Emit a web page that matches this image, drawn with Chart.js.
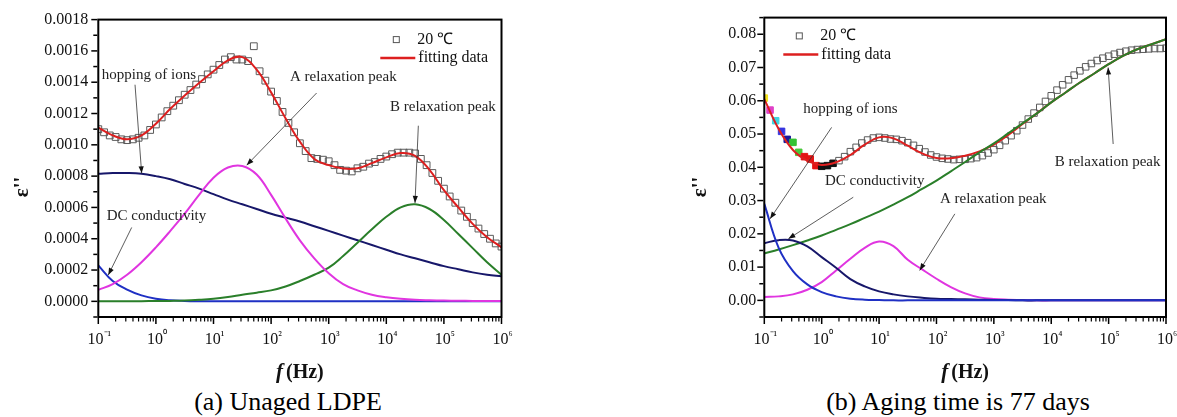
<!DOCTYPE html>
<html lang="en">
<head>
<meta charset="UTF-8">
<title>Dielectric loss spectra</title>
<script src="https://cdn.jsdelivr.net/npm/chart.js"></script>
<style>
  body { margin: 0; width: 1177px; height: 417px; background: #fff; overflow: hidden; position: relative; font-family: "Liberation Serif", "Times New Roman", serif; }
  .wrap { position: absolute; top: 0; height: 385px; }
  .caption { position: absolute; top: 388px; width: 420px; text-align: center; font-size: 26px; line-height: 28px; color: #000; }
</style>
</head>
<body>
<div class="wrap" style="left:0;width:588px"><canvas id="chartA"></canvas></div>
<div class="wrap" style="left:588px;width:589px"><canvas id="chartB"></canvas></div>
<div class="caption" style="left:78px">(a) Unaged LDPE</div>
<div class="caption" style="left:748px">(b) Aging time is 77 days</div>

<script>
// measured frequencies (10 per decade) and fit frequencies (4 per decade), Hz
const freqMeas = [0.1,0.126,0.158,0.2,0.251,0.316,0.398,0.501,0.631,0.794,
  1,1.26,1.58,2,2.51,3.16,3.98,5.01,6.31,7.94,
  10,12.6,15.8,20,25.1,31.6,39.8,50.1,63.1,79.4,
  100,126,158,200,251,316,398,501,631,794,
  1e3,1260,1580,2000,2510,3160,3980,5010,6310,7940,
  1e4,12600,15800,20000,25100,31600,39800,50100,63100,79400,
  1e5,126000,158000,200000,251000,316000,398000,501000,631000,794000,
  1e6];
const freqFit = [0.1,0.178,0.316,0.562,1,1.78,3.16,5.62,10,17.8,31.6,56.2,100,178,316,562,
  1e3,1780,3160,5620,1e4,17800,31600,56200,1e5,178000,316000,562000,1e6];

// (a) Unaged LDPE
const aMeasured = [0.00110,0.00108,0.00106,0.00105,0.001035,0.00103,0.001035,0.001045,0.00106,0.001095,
  0.00113,0.001175,0.001215,0.00125,0.001285,0.00132,0.00135,0.001385,0.00142,0.00145,
  0.00148,0.00151,0.001545,0.00156,0.001545,0.001545,0.001535,0.00163,0.00147,0.00141,
  0.00134,0.00128,0.00121,0.00114,0.00108,0.00101,0.00096,0.000915,0.00091,0.000905,
  0.000895,0.00087,0.00084,0.000835,0.00083,0.00085,0.00086,0.00088,0.00089,0.00091,
  0.000925,0.00094,0.00095,0.00095,0.00095,0.000945,0.00091,0.00087,0.00082,0.00077,
  0.00072,0.00067,0.00063,0.00058,0.00054,0.0005,0.000465,0.00043,0.0004,0.00037,
  0.00035];
const aFit = [0.00111,0.00106,0.001035,0.00106,0.001135,0.00123,0.001315,0.001395,0.00147,0.00154,0.00156,0.00148,
  0.001335,0.00117,0.00102,0.00091,0.00087,0.000848,0.00085,0.000883,0.00092,0.000948,0.00093,0.00084,
  0.00071,0.0006,0.000495,0.00041,0.000345];
const aHopping = [0.000815,0.00082,0.00082,0.000815,0.0008,0.00078,0.00075,0.00072,0.000685,0.00065,0.00062,0.00059,
  0.00056,0.000535,0.00051,0.00048,0.00045,0.00042,0.00039,0.00036,0.00033,0.0003,0.000275,0.00025,
  0.000225,0.000205,0.000185,0.00017,0.00016];
const aDC = [0.00023,0.00013,0.000075,0.000038,0.000017,0.000007,0.000003,0.000001,0,0,0,0,
  0,0,0,0,0,0,0,0,0,0,0,0,0,0,0,0,0];
const aPeakA = [0.000073,0.00011,0.00017,0.00025,0.000345,0.00045,0.00056,0.00068,0.00079,0.000855,0.000865,0.00081,
  0.00068,0.00053,0.00039,0.000275,0.00018,0.00011,0.00007,0.000042,0.000026,0.000016,0.00001,0.000007,
  0.000005,0.000004,0.000003,0.000003,0.000002];
const aPeakB = [0,0,0.000001,0.000001,0.000002,0.000003,0.000005,0.00001,0.000017,0.000028,0.000042,0.000055,
  0.00007,0.000095,0.00013,0.00017,0.000215,0.00029,0.000375,0.00046,0.00054,0.0006,0.00062,0.00059,
  0.00052,0.00043,0.00034,0.00025,0.00017];

// (b) Aging time is 77 days
const bMeasured = [0.0608,0.0572,0.054,0.0508,0.0484,0.0475,0.0445,0.0432,0.0425,0.0405,
  0.0403,0.0405,0.0412,0.042,0.0432,0.0447,0.046,0.0473,0.0482,0.0488,
  0.049,0.0488,0.0485,0.0484,0.048,0.0474,0.0466,0.0456,0.0446,0.0437,
  0.0431,0.0427,0.0425,0.0423,0.0424,0.0424,0.0426,0.0429,0.0435,0.0443,
  0.0453,0.0466,0.048,0.0495,0.051,0.0527,0.0545,0.0563,0.058,0.0598,
  0.0615,0.0632,0.0648,0.0663,0.0677,0.069,0.0702,0.0712,0.0721,0.0728,
  0.0734,0.074,0.0745,0.0749,0.0752,0.0754,0.0755,0.0756,0.0757,0.0757,
  0.0758];
const bFit = [0.0605,0.0515,0.0452,0.042,0.0407,0.0415,0.0437,0.0468,0.049,0.0487,0.0465,0.0442,
  0.0428,0.0427,0.0435,0.0448,0.0468,0.0497,0.053,0.0562,0.0595,0.0625,0.0655,0.0682,
  0.071,0.0735,0.0755,0.077,0.0785];
const bHopping = [0.0172,0.0181,0.018,0.0162,0.013,0.0098,0.0064,0.0042,0.0027,0.0018,0.0012,0.0008,
  0.0005,0.0004,0.0003,0.0002,0.0001,0.0001,0,0,0,0,0,0,0,0,0,0,0];
const bDC = [0.029,0.0158,0.0088,0.0048,0.0025,0.0012,0.0005,0.0002,0.0001,0,0,0,
  0,0,0,0,0,0,0,0,0,0,0,0,0,0,0,0,0];
const bPeakA = [0.001,0.0012,0.0018,0.0032,0.0055,0.009,0.0125,0.0158,0.0177,0.0163,0.0122,0.0093,
  0.0065,0.004,0.0021,0.0009,0.0004,0.0002,0.0001,0,0,0,0,0,0,0,0,0,0];
const bPeakB = [0.0141,0.0153,0.0166,0.018,0.0195,0.0212,0.0229,0.0248,0.0267,0.0288,0.031,0.0335,
  0.036,0.0388,0.0416,0.0445,0.0472,0.0502,0.0532,0.0562,0.0595,0.0625,0.0655,0.0682,
  0.071,0.0735,0.0755,0.077,0.0785];

// tick labels
const xTickExp = ['-1','0','1','2','3','4','5','6'];
const yTicksA = ['0.0000','0.0002','0.0004','0.0006','0.0008','0.0010','0.0012','0.0014','0.0016','0.0018'];
const yTicksB = ['0.00','0.01','0.02','0.03','0.04','0.05','0.06','0.07','0.08'];

// the first few low-frequency points of (b) are filled in colour
const bFill = ['#f2e21a','#e040c8','#3fd6e0','#3535e0','#1c1c9a','#34c234','#49c83a','#e31414','#e31414','#e31414','#111','#111','#111'];

const SERIF = '"Liberation Serif", "Times New Roman", serif';
const SUP = {'-':'⁻','0':'⁰','1':'¹','2':'²','3':'³','4':'⁴','5':'⁵','6':'⁶'};

function pts(xs, ys) { return xs.map((f, i) => ({x: f, y: ys[i]})); }

function arrow(ctx, x1, y1, x2, y2) {
  ctx.strokeStyle = '#333';
  ctx.lineWidth = 0.8;
  ctx.beginPath(); ctx.moveTo(x1, y1); ctx.lineTo(x2, y2); ctx.stroke();
  const a = Math.atan2(y2 - y1, x2 - x1);
  ctx.fillStyle = '#111';
  ctx.beginPath();
  ctx.moveTo(x2, y2);
  ctx.lineTo(x2 - 7 * Math.cos(a) + 2.6 * Math.sin(a), y2 - 7 * Math.sin(a) - 2.6 * Math.cos(a));
  ctx.lineTo(x2 - 7 * Math.cos(a) - 2.6 * Math.sin(a), y2 - 7 * Math.sin(a) + 2.6 * Math.cos(a));
  ctx.closePath(); ctx.fill();
}

// notes, legend, frame, ticks, 10^n labels and axis titles
const decor = {
  id: 'decor',
  afterDatasetsDraw(chart, args, o) {
    const ctx = chart.ctx, ca = chart.chartArea, x = chart.scales.x, y = chart.scales.y;
    ctx.save();
    o.notes.forEach(n => {
      ctx.font = '15px ' + SERIF;
      ctx.fillStyle = '#222';
      ctx.textAlign = 'left';
      ctx.textBaseline = 'middle';
      ctx.fillText(n.text, x.getPixelForValue(n.tx), y.getPixelForValue(n.ty));
      arrow(ctx, x.getPixelForValue(n.ax), y.getPixelForValue(n.ay), x.getPixelForValue(n.bx), y.getPixelForValue(n.by));
    });
    // legend
    const lx = ca.left + o.legend.x, ly = ca.top + o.legend.y;
    ctx.strokeStyle = '#555'; ctx.lineWidth = 1;
    ctx.strokeRect(lx + 13, ly - 3, 6, 6);
    ctx.strokeStyle = '#dd1f1f'; ctx.lineWidth = 2.5;
    ctx.beginPath(); ctx.moveTo(lx, ly + 18.5); ctx.lineTo(lx + 35, ly + 18.5); ctx.stroke();
    ctx.font = '16px ' + SERIF; ctx.fillStyle = '#111';
    ctx.textAlign = 'left'; ctx.textBaseline = 'middle';
    ctx.fillText('20 ℃', lx + 37, ly);
    ctx.fillText('fitting data', lx + 38, ly + 18.5);
    ctx.restore();
  },
  afterDraw(chart, args, o) {
    const ctx = chart.ctx, ca = chart.chartArea, x = chart.scales.x, y = chart.scales.y;
    ctx.save();
    // frame
    ctx.strokeStyle = '#000';
    ctx.lineWidth = 2;
    ctx.strokeRect(ca.left, ca.top, ca.right - ca.left, ca.bottom - ca.top);
    // outward ticks
    ctx.fillStyle = '#000';
    y.ticks.forEach(t => {
      const py = y.getPixelForValue(t.value);
      const len = t.label ? 6 : 4;
      ctx.fillRect(ca.left - 1 - len, py - 0.75, len, 1.5);
    });
    xTickExp.forEach(e => {
      const d = Number(e);
      ctx.fillRect(x.getPixelForValue(Math.pow(10, d)) - 0.75, ca.bottom + 1, 1.5, 6);
      if (d < 6) {
        for (let m = 2; m <= 9; m++) ctx.fillRect(x.getPixelForValue(m * Math.pow(10, d)) - 0.6, ca.bottom + 1, 1.2, 3.5);
      }
    });
    // x tick labels 10^n
    ctx.fillStyle = '#111';
    ctx.textAlign = 'left';
    ctx.textBaseline = 'alphabetic';
    xTickExp.forEach(e => {
      const px = x.getPixelForValue(Math.pow(10, Number(e)));
      const sup = e.split('').map(c => SUP[c]).join('');
      ctx.font = '16px ' + SERIF;
      const w1 = ctx.measureText('10').width;
      ctx.font = '12px ' + SERIF;
      const w2 = ctx.measureText(sup).width;
      const x0 = px - (w1 + w2) / 2 + 1;
      ctx.font = '16px ' + SERIF;
      ctx.fillText('10', x0, ca.bottom + 27);
      ctx.font = '12px ' + SERIF;
      ctx.fillText(sup, x0 + w1, ca.bottom + 22);
    });
    // x title
    ctx.textBaseline = 'middle';
    const cx = (ca.left + ca.right) / 2;
    ctx.font = 'italic bold 21px ' + SERIF;
    const wf = ctx.measureText('f').width;
    ctx.font = 'bold 20px ' + SERIF;
    const wh = ctx.measureText('(Hz)').width;
    const sx = cx - (wf + 3 + wh) / 2;
    ctx.font = 'italic bold 21px ' + SERIF;
    ctx.fillText('f', sx, 373);
    ctx.font = 'bold 20px ' + SERIF;
    ctx.fillText('(Hz)', sx + wf + 3, 373);
    // y title
    ctx.translate(ca.left - o.yTitleOff, 187);
    ctx.rotate(-Math.PI / 2);
    ctx.textAlign = 'center';
    ctx.font = 'bold 21px ' + SERIF;
    ctx.fillText("ε''", 0, 0);
    ctx.restore();
  }
};

function lineSet(label, xs, ys, color, order) {
  return {label, data: pts(xs, ys), borderColor: color, borderWidth: 2, pointRadius: 0,
    tension: 0.4, fill: false, order};
}

function makeChart(id, cfg) {
  const labelFor = v => {
    const hit = cfg.yTicks.find(s => Math.abs(parseFloat(s) - v) < cfg.step / 10);
    return hit === undefined ? '' : hit;
  };
  return new Chart(document.getElementById(id), {
    type: 'line',
    data: {datasets: cfg.datasets},
    options: {
      responsive: true,
      maintainAspectRatio: false,
      animation: false,
      layout: {padding: cfg.padding},
      plugins: {legend: {display: false}, tooltip: {enabled: false}, decor: cfg.decor},
      scales: {
        x: {
          type: 'logarithmic', min: 0.1, max: 1e6,
          grid: {display: false, drawTicks: false}, border: {display: false},
          ticks: {display: false},
          afterFit: s => { s.height = 0; }
        },
        y: {
          min: cfg.yMin, max: cfg.yMax,
          grid: {display: false, drawTicks: false, tickLength: 0}, border: {display: false},
          ticks: {stepSize: cfg.step, autoSkip: false, padding: cfg.tickPad, color: '#111',
            font: {family: SERIF, size: 16}, callback: v => labelFor(v)},
          afterFit: s => { s.width = cfg.yWidth; }
        }
      }
    },
    plugins: [decor]
  });
}

makeChart('chartA', {
  yMin: -0.0001, yMax: 0.0018, step: 0.0001, yTicks: yTicksA, tickPad: 10, yWidth: 98.3,
  padding: {left: 0, right: 86.5, top: 16.7, bottom: 68},
  datasets: [
    {label: '20 ℃', data: pts(freqMeas, aMeasured), showLine: false, pointStyle: 'rect', pointRadius: 4.8,
      pointBorderWidth: 1, pointBorderColor: '#5a5a5a', pointBackgroundColor: 'rgba(0,0,0,0)', order: 6},
    lineSet('fitting data', freqFit, aFit, '#dd1f1f', 5),
    lineSet('hopping of ions', freqFit, aHopping, '#17176a', 4),
    lineSet('DC conductivity', freqFit, aDC, '#1f30c4', 3),
    lineSet('B relaxation peak', freqFit, aPeakB, '#2a7f2a', 2),
    lineSet('A relaxation peak', freqFit, aPeakA, '#e035e0', 1)
  ],
  decor: {
    yTitleOff: 76,
    legend: {x: 282, y: 20},
    notes: [
      {text: 'hopping of ions', tx: 0.115, ty: 0.001447, ax: 0.434, ay: 0.001384, bx: 0.566, by: 0.000818},
      {text: 'DC conductivity', tx: 0.14, ty: 0.000545, ax: 0.38, ay: 0.000472, bx: 0.149, by: 0.000168},
      {text: 'A relaxation peak', tx: 213, ty: 0.001436, ax: 617, ay: 0.001331, bx: 37.7, by: 0.00087},
      {text: 'B relaxation peak', tx: 11600, ty: 0.001241, ax: 36000, ay: 0.001122, bx: 31500, by: 0.000629}
    ]
  }
});

makeChart('chartB', {
  yMin: -0.005, yMax: 0.085, step: 0.005, yTicks: yTicksB, tickPad: 8, yWidth: 100,
  padding: {left: 76.3, right: 11, top: 16.7, bottom: 68},
  datasets: [
    {label: '20 ℃', data: pts(freqMeas, bMeasured), showLine: false, pointStyle: 'rect', pointRadius: 4.6,
      pointBorderWidth: 1,
      pointBorderColor: freqMeas.map((f, i) => bFill[i] || '#5a5a5a'),
      pointBackgroundColor: freqMeas.map((f, i) => bFill[i] || 'rgba(0,0,0,0)'), order: 6},
    lineSet('fitting data', freqFit, bFit, '#dd1f1f', 5),
    lineSet('A relaxation peak', freqFit, bPeakA, '#e035e0', 4),
    lineSet('B relaxation peak', freqFit, bPeakB, '#2a7f2a', 3),
    lineSet('hopping of ions', freqFit, bHopping, '#17176a', 2),
    lineSet('DC conductivity', freqFit, bDC, '#1f30c4', 1)
  ],
  decor: {
    yTitleOff: 63.3,
    legend: {x: 19, y: 18.3},
    notes: [
      {text: 'hopping of ions', tx: 0.479, ty: 0.0575, ax: 1.49, ay: 0.052, bx: 0.126, by: 0.0245},
      {text: 'DC conductivity', tx: 1.14, ty: 0.036, ax: 3.55, ay: 0.031, bx: 0.263, by: 0.0185},
      {text: 'A relaxation peak', tx: 115, ty: 0.0305, ax: 209, ay: 0.026, bx: 51, by: 0.009},
      {text: 'B relaxation peak', tx: 11500, ty: 0.0415, ax: 120000, ay: 0.047, bx: 98000, by: 0.070}
    ]
  }
});
</script>
</body>
</html>
